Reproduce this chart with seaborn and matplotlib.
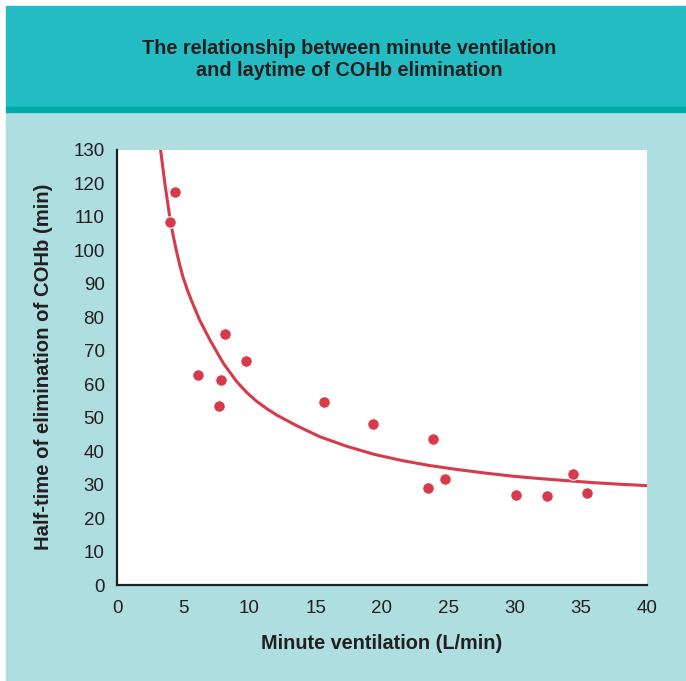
import matplotlib
matplotlib.use('Agg')
import matplotlib.pyplot as plt
from matplotlib.patches import Rectangle
import seaborn as sns
import pandas as pd

# -------------------------
# DATA
# -------------------------
vent = [3.97, 4.40, 6.09, 7.72, 7.85, 8.18, 9.74, 15.6, 19.35,
        23.47, 23.83, 24.78, 30.09, 32.45, 34.44, 35.45]
halftime = [108.4, 117.4, 62.8, 53.6, 61.2, 75.1, 66.9, 54.8, 48.0,
            29.1, 43.5, 31.8, 27.0, 26.5, 33.3, 27.6]

curve_x = [3.25, 3.30, 3.62, 4.0, 4.25, 4.5, 4.75, 5.0, 5.3, 5.63, 6.26, 7.02,
           8.02, 9.03, 9.8, 10.54, 11.3, 12.05, 13.56, 15.32, 17.3, 19.35, 21.5,
           23.6, 25.7, 27.9, 29.9, 31.9, 33.9, 35.9, 38.0, 40.0]
curve_y = [131.5, 129.7, 119.8, 109.5, 104.2, 99.6, 95.4, 91.8, 88.3, 84.9, 79.0, 73.2,
           66.3, 60.8, 57.5, 54.9, 52.7, 50.8, 47.6, 44.3, 41.5, 39.1, 37.2,
           35.7, 34.5, 33.4, 32.5, 31.8, 31.2, 30.6, 30.1, 29.7]

x_ticks = [0, 5, 10, 15, 20, 25, 30, 35, 40]
y_ticks = list(range(0, 131, 10))

title = 'The relationship between minute ventilation\nand laytime of COHb elimination'
xlabel = 'Minute ventilation (L/min)'
ylabel = 'Half-time of elimination of COHb (min)'

# colours
header = '#22BCC2'
strip = '#00A9AA'
panel = '#AEDEDF'
red = '#D63A4B'
ink = '#231F20'

sns.set_style('white')
plt.rcParams['font.family'] = ['Liberation Sans', 'DejaVu Sans']

W, H = 686, 681
fig = plt.figure(figsize=(W / 100, H / 100), dpi=100)
fig.patch.set_facecolor('white')

# background boxes (figure pixel coords -> fraction)
def box(x0, y0, x1, y1, color):
    fig.patches.append(Rectangle((x0 / W, 1 - y1 / H), (x1 - x0) / W, (y1 - y0) / H,
                                 transform=fig.transFigure, color=color, zorder=-10))

box(5.5, 112, W, H, panel)
box(5.5, 6, W, 107, header)
box(5.5, 107, W, 112, strip)

fig.text(349 / W, 1 - 59 / H, title, ha='center', va='center', fontsize=14.3,
         fontweight='bold', color=ink, linespacing=1.2)

ax = fig.add_axes([117 / W, 1 - 585 / H, 530 / W, 435 / H])
ax.set_facecolor('white')

curve = pd.DataFrame({'x': curve_x, 'y': curve_y})
pts = pd.DataFrame({'x': vent, 'y': halftime})

sns.lineplot(data=curve, x='x', y='y', color=red, linewidth=2.2, estimator=None,
             ax=ax, zorder=2)
sns.scatterplot(data=pts, x='x', y='y', color=red, s=70, edgecolor='white',
                linewidth=0.8, ax=ax, zorder=3)

ax.set_xlim(0, 40)
ax.set_ylim(0, 130)
ax.set_xticks(x_ticks)
ax.set_yticks(y_ticks)

for s in ['top', 'right']:
    ax.spines[s].set_visible(False)
for s in ['left', 'bottom']:
    ax.spines[s].set_color(ink)
    ax.spines[s].set_linewidth(1.6)

ax.tick_params(axis='both', direction='out', length=6, width=1, color=ink,
               labelsize=13.5, labelcolor=ink)
ax.tick_params(axis='x', pad=5)
ax.tick_params(axis='y', pad=3)

ax.set_xlabel(xlabel, fontsize=14.3, fontweight='bold', color=ink)
ax.set_ylabel(ylabel, fontsize=14.6, fontweight='bold', color=ink)
ax.xaxis.set_label_coords(0.5, (585 - 634) / 435)
ax.yaxis.set_label_coords((53 - 117) / 530, (585 - 367) / 435)

fig.savefig('out.png', dpi=100, facecolor=fig.get_facecolor())
